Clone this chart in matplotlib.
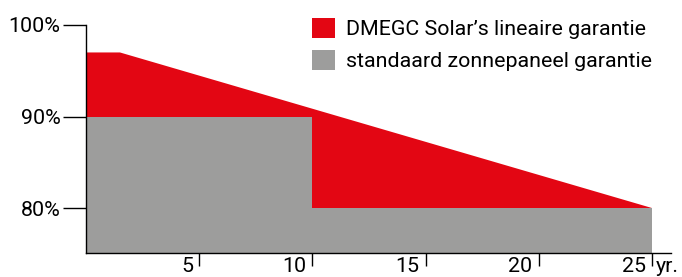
import matplotlib.pyplot as plt
from matplotlib.patches import Patch
from matplotlib.transforms import blended_transform_factory

plt.rcParams['font.family'] = ['Roboto', 'DejaVu Sans']

# data
years_dmegc = [0, 1.5, 25]
pct_dmegc = [97, 97, 80]
years_std = [0, 10, 25]
pct_std = [90, 80, 80]
x_ticks = [5, 10, 15, 20, 25]
y_ticks = [80, 90, 100]
labels = ["DMEGC Solar\u2019s lineaire garantie", "standaard zonnepaneel garantie"]

red = '#e30613'
grey = '#9d9d9c'
fs = 15.4

fig = plt.figure(figsize=(6.82, 2.77), dpi=100)
ax = fig.add_axes([86 / 682, 24.5 / 277, (670.5 - 86) / 682, (252.5 - 25) / 277])

ax.fill_between(years_dmegc, pct_dmegc, 0, color=red, lw=0)
ax.fill_between(years_std, pct_std, 0, step='post', color=grey, lw=0)

ax.set_xlim(0, 25.82)
ax.set_ylim(75.14, 100)

for s in ['top', 'right']:
    ax.spines[s].set_visible(False)
for s in ['left', 'bottom']:
    ax.spines[s].set_linewidth(1.0)

ax.set_yticks(y_ticks)
ax.set_yticklabels([f"{v}%" for v in y_ticks])
ax.tick_params(axis='y', length=16.5, width=1.0, pad=2, labelsize=fs, direction='out')

ax.set_xticks(x_ticks)
ax.set_xticklabels([])
ax.tick_params(axis='x', length=9, width=1.0, direction='out')

trans = blended_transform_factory(ax.transData, ax.transAxes)
for t in x_ticks:
    ax.annotate(str(t), xy=(t, 0), xycoords=trans, xytext=(-4.5, -3),
                textcoords='offset points', ha='right', va='top', fontsize=fs)
ax.annotate('yr.', xy=(x_ticks[-1], 0), xycoords=trans, xytext=(3, -3),
            textcoords='offset points', ha='left', va='top', fontsize=fs)

handles = [Patch(facecolor=red, edgecolor='none'), Patch(facecolor=grey, edgecolor='none')]
fig.legend(handles, labels, loc='upper left', bbox_to_anchor=(312 / 682, 1 - 18 / 277),
           frameon=False, fontsize=fs, handlelength=1.07, handleheight=1.07,
           handletextpad=0.52, labelspacing=0.5, borderaxespad=0, borderpad=0)

fig.savefig('out.png', dpi=100)
